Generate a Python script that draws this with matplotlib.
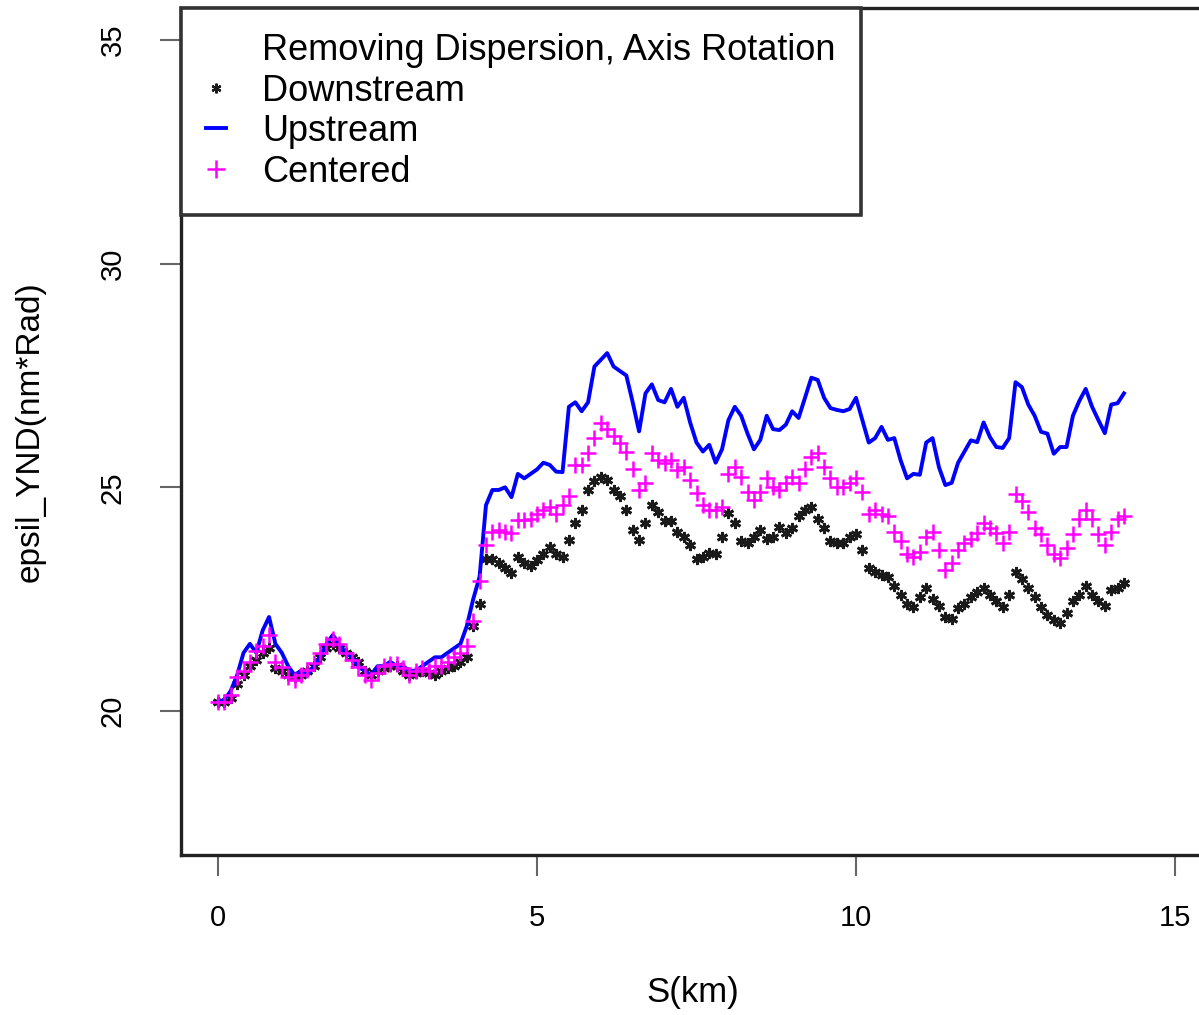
import numpy as np
import matplotlib.pyplot as plt
from matplotlib.lines import Line2D

plt.rcParams['font.family'] = ['Liberation Sans', 'DejaVu Sans']

# distance along the line, km (sampled every 0.1 km)
s_km = np.round(np.arange(143) * 0.1, 1)

upstream = [
    20.2, 20.25, 20.45, 20.8, 21.3, 21.5, 21.3, 21.8, 22.1, 21.5,
    21.3, 21.0, 20.8, 20.9, 20.8, 21.0, 21.2, 21.5, 21.7, 21.5,
    21.3, 21.2, 21.0, 20.9, 20.8, 21.0, 21.0, 21.1, 21.0, 21.0,
    20.9, 20.9, 21.0, 21.1, 21.2, 21.2, 21.3, 21.4, 21.5, 21.9,
    22.5, 23.0, 24.6, 24.94, 24.94, 25.0, 24.78, 25.3, 25.2, 25.3,
    25.4, 25.55, 25.5, 25.35, 25.34, 26.8, 26.9, 26.7, 26.9, 27.7,
    27.85, 28.0, 27.7, 27.6, 27.5, 26.9, 26.25, 27.1, 27.3, 26.95,
    26.9, 27.2, 26.8, 27.0, 26.45, 26.0, 25.8, 25.95, 25.55, 25.85,
    26.5, 26.8, 26.6, 26.2, 25.85, 26.06, 26.6, 26.3, 26.28, 26.4,
    26.7, 26.55, 27.0, 27.45, 27.4, 27.0, 26.77, 26.73, 26.7, 26.75,
    27.0, 26.5, 26.0, 26.1, 26.35, 26.06, 26.1, 25.6, 25.2, 25.3,
    25.28, 26.0, 26.1, 25.45, 25.05, 25.1, 25.55, 25.8, 26.05, 26.01,
    26.45, 26.12, 25.9, 25.88, 26.1, 27.35, 27.24, 26.85, 26.6, 26.24,
    26.2, 25.75, 25.9, 25.9, 26.6, 26.93, 27.2, 26.8, 26.5, 26.21,
    26.85, 26.88, 27.1]

centered = [
    20.2, 20.2, 20.35, 20.75, 20.9, 21.1, 21.35, 21.45, 21.7, 21.1,
    20.98, 20.76, 20.7, 20.8, 20.92, 21.07, 21.3, 21.5, 21.6, 21.5,
    21.3, 21.14, 20.98, 20.8, 20.7, 20.85, 21.0, 21.05, 21.05, 20.95,
    20.8, 20.9, 20.95, 20.9, 21.0, 21.0, 21.1, 21.2, 21.3, 21.45,
    22.0, 22.9, 23.7, 24.0, 24.05, 24.0, 23.98, 24.27, 24.27, 24.3,
    24.4, 24.49, 24.56, 24.4, 24.6, 24.8, 25.5, 25.5, 25.77, 26.1,
    26.44, 26.3, 26.15, 25.99, 25.8, 25.4, 24.94, 25.1, 25.77, 25.6,
    25.55, 25.6, 25.39, 25.45, 25.16, 24.87, 24.6, 24.49, 24.5, 24.56,
    25.3, 25.45, 25.23, 24.9, 24.72, 24.9, 25.2, 25.0, 24.94, 25.1,
    25.23, 25.1, 25.4, 25.68, 25.77, 25.45, 25.2, 25.0, 25.0, 25.1,
    25.2, 24.9, 24.4, 24.5, 24.4, 24.35, 24.0, 23.8, 23.5, 23.45,
    23.55, 23.9, 24.0, 23.6, 23.15, 23.3, 23.6, 23.75, 23.85, 23.98,
    24.2, 24.1, 23.98, 23.75, 24.0, 24.85, 24.7, 24.45, 24.1, 23.95,
    23.7, 23.5, 23.42, 23.64, 23.95, 24.3, 24.49, 24.3, 23.95, 23.7,
    24.0, 24.3, 24.35]

downstream = [
    20.2, 20.2, 20.3, 20.6, 20.8, 21.0, 21.15, 21.3, 21.4, 20.95,
    20.9, 20.8, 20.75, 20.8, 20.9, 21.0, 21.2, 21.4, 21.5, 21.4,
    21.3, 21.2, 21.1, 20.9, 20.8, 20.9, 20.95, 21.0, 21.0, 20.9,
    20.8, 20.85, 20.9, 20.85, 20.8, 20.9, 20.95, 21.0, 21.1, 21.2,
    21.9, 22.4, 23.4, 23.4, 23.3, 23.2, 23.08, 23.44, 23.3, 23.25,
    23.37, 23.5, 23.67, 23.5, 23.44, 23.82, 24.2, 24.49, 24.94, 25.15,
    25.23, 25.16, 24.95, 24.8, 24.5, 24.05, 23.82, 24.2, 24.6, 24.45,
    24.25, 24.25, 24.0, 23.89, 23.7, 23.4, 23.44, 23.53, 23.5, 23.9,
    24.43, 24.2, 23.8, 23.75, 23.9, 24.05, 23.85, 23.9, 24.11, 23.98,
    24.1, 24.35, 24.49, 24.56, 24.3, 24.1, 23.8, 23.75, 23.75, 23.9,
    23.95, 23.6, 23.2, 23.1, 23.05, 23.0, 22.8, 22.6, 22.4, 22.32,
    22.55, 22.75, 22.5, 22.35, 22.1, 22.05, 22.3, 22.4, 22.55, 22.65,
    22.75, 22.6, 22.45, 22.32, 22.6, 23.1, 22.95, 22.75, 22.55, 22.32,
    22.15, 22.03, 21.96, 22.2, 22.45, 22.6, 22.79, 22.6, 22.45, 22.35,
    22.7, 22.75, 22.85]

W, H = 1199, 1015
fig = plt.figure(figsize=(W / 100, H / 100), dpi=100)
# plot box: left 181px, right just past the image edge, top 8px, bottom 855px
ax = fig.add_axes([181 / W, (H - 855) / H, (1205 - 181) / W, (855 - 8) / H])

star = (6, 2, 0)
ax.plot(s_km, downstream, ls='none', marker=star, ms=8, mew=2.0,
        color='#1a1a1a')
ax.plot(s_km, upstream, color='#0000ff', lw=2.8)
ax.plot(s_km, centered, ls='none', marker='+', ms=12, mew=1.8,
        color='#ff00ff')

ax.set_xlim(-0.58, 15.47)
ax.set_ylim(16.78, 35.715)
ax.set_xticks([0, 5, 10, 15])
ax.set_yticks([20, 25, 30, 35])
ax.tick_params(axis='both', direction='out', length=15, width=1.5,
               color='#666666', labelsize=21)
ax.tick_params(axis='x', pad=20)
ax.tick_params(axis='y', pad=24)
for lab in ax.get_yticklabels():
    lab.set_rotation(90)
    lab.set_va('center')

for side in ['left', 'bottom', 'top']:
    ax.spines[side].set_linewidth(2.4)
    ax.spines[side].set_color('#222222')
ax.spines['right'].set_visible(False)

ax.set_xlabel('S(km)', fontsize=25, labelpad=32)
ax.set_ylabel('epsil_YND(nm*Rad)', fontsize=24, labelpad=38)

handles = [
    Line2D([], [], ls='none'),
    Line2D([], [], ls='none', marker=star, ms=7, mew=1.6, color='#1a1a1a'),
    Line2D([], [], color='#0000ff', lw=2.8),
    Line2D([], [], ls='none', marker='+', ms=13, mew=1.8, color='#ff00ff'),
]
labels = ['Removing Dispersion, Axis Rotation', 'Downstream', 'Upstream',
          'Centered']
leg = ax.legend(handles, labels, loc='upper left', bbox_to_anchor=(0, 1),
                borderaxespad=0, fontsize=26, handlelength=0.55,
                handletextpad=1.0, borderpad=0.7, labelspacing=0.15,
                fancybox=False, framealpha=1)
leg.get_frame().set_edgecolor('#333333')
leg.get_frame().set_linewidth(2.6)

fig.savefig('out.png', dpi=100)
